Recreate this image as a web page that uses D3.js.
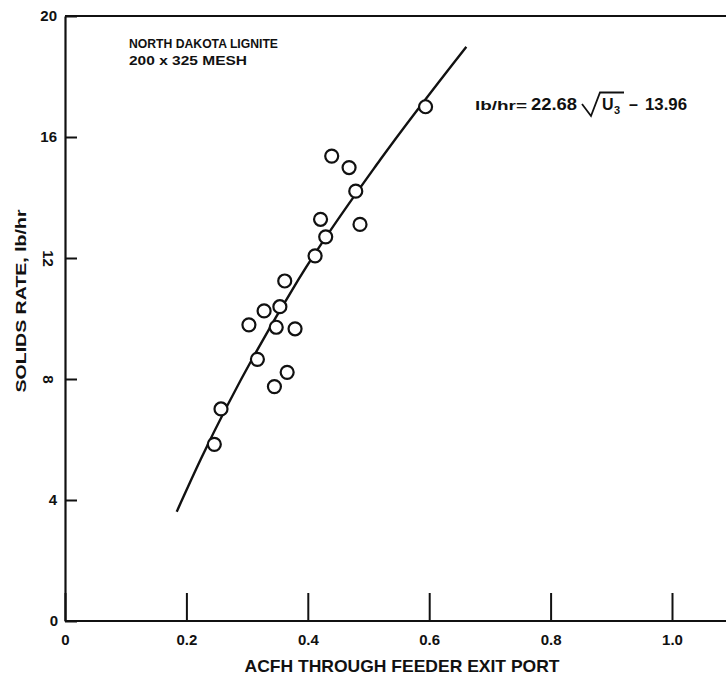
<!DOCTYPE html>
<html>
<head>
<meta charset="utf-8">
<script src="https://cdn.jsdelivr.net/npm/d3@7"></script>
<style>
  body { margin: 0; background: #fff; }
  text { font-family: "Liberation Sans", Arial, sans-serif; font-weight: bold; fill: #111; }
</style>
</head>
<body>
<div id="chart"></div>
<script>
// measured points (ACFH, lb/hr)
var acfh = [0.246, 0.257, 0.303, 0.317, 0.328, 0.345, 0.348, 0.354, 0.362, 0.366,
            0.379, 0.412, 0.421, 0.4295, 0.4394, 0.468, 0.479, 0.486, 0.594];
var solids = [5.84, 7.01, 9.79, 8.65, 10.25, 7.75, 9.71, 10.39, 11.24, 8.22,
              9.66, 12.07, 13.28, 12.70, 15.37, 14.99, 14.21, 13.11, 17.0];

// fitted curve
var fitX = [0.184, 0.224, 0.384, 0.519, 0.661];
var fitY = [3.61, 5.36, 11.27, 15.24, 18.98];

var xTicks = [0, 0.2, 0.4, 0.6, 0.8, 1.0];
var yTicks = [0, 4, 8, 12, 16, 20];

var W = 726, H = 677;
var margin = {left: 65, top: 16, bottom: 56};

var svg = d3.select("#chart").append("svg")
    .attr("width", W)
    .attr("height", H);

var x = d3.scaleLinear().domain([0, 1]).range([margin.left, 672]);
var y = d3.scaleLinear().domain([0, 20]).range([H - margin.bottom, margin.top]);

// frame: top line runs out to the page edge
svg.append("line")
    .attr("x1", x(0)).attr("x2", W)
    .attr("y1", y(20)).attr("y2", y(20))
    .attr("stroke", "#111").attr("stroke-width", 2.2);

var xAxis = svg.append("g")
    .attr("transform", "translate(0," + y(0) + ")")
    .call(d3.axisBottom(x).tickValues(xTicks)
        .tickSizeInner(-28).tickSizeOuter(0).tickPadding(13)
        .tickFormat(d => d === 0 ? "0" : d.toFixed(1)));
xAxis.select(".domain").remove();
xAxis.selectAll(".tick line").attr("stroke", "#111").attr("stroke-width", 2);
xAxis.selectAll(".tick text").style("font-size", "15px").attr("fill", "#111");
xAxis.append("line")
    .attr("x1", x(0)).attr("x2", W)
    .attr("stroke", "#111").attr("stroke-width", 2.2);

var yAxis = svg.append("g")
    .attr("transform", "translate(" + x(0) + ",0)")
    .call(d3.axisLeft(y).tickValues(yTicks)
        .tickSizeInner(-12).tickSizeOuter(0).tickPadding(8));
yAxis.select(".domain").attr("stroke", "#111").attr("stroke-width", 2.2);
yAxis.selectAll(".tick line").attr("stroke", "#111").attr("stroke-width", 2);
yAxis.selectAll(".tick text").style("font-size", "15px").attr("fill", "#111");
// the 12 and 8 labels are lettered sideways in the original
yAxis.selectAll(".tick text")
    .filter(d => d === 12 || d === 8)
    .attr("text-anchor", "middle").attr("x", -17).attr("dy", "0.35em")
    .attr("transform", "rotate(90,-17,0)");
yAxis.selectAll(".tick").filter(d => d === 0).select("text").attr("x", -7);

// fit line
var line = d3.line()
    .x((d, i) => x(fitX[i]))
    .y(d => y(d))
    .curve(d3.curveMonotoneX);
svg.append("path")
    .datum(fitY)
    .attr("d", line)
    .attr("fill", "none")
    .attr("stroke", "#111")
    .attr("stroke-width", 2.4);

svg.selectAll("circle.pt")
    .data(acfh)
    .enter().append("circle")
    .attr("class", "pt")
    .attr("cx", d => x(d))
    .attr("cy", (d, i) => y(solids[i]))
    .attr("r", 6.5)
    .attr("fill", "#fff")
    .attr("stroke", "#111")
    .attr("stroke-width", 2.2);

// axis titles
svg.append("text")
    .attr("x", 402).attr("y", 672)
    .attr("text-anchor", "middle")
    .attr("textLength", 315).attr("lengthAdjust", "spacingAndGlyphs")
    .style("font-size", "17px")
    .text("ACFH THROUGH FEEDER EXIT PORT");

svg.append("text")
    .attr("transform", "translate(26,301) rotate(-90)")
    .attr("text-anchor", "middle")
    .attr("textLength", 183).attr("lengthAdjust", "spacingAndGlyphs")
    .style("font-size", "15px")
    .text("SOLIDS RATE, lb/hr");

// note
svg.append("text")
    .attr("x", 129).attr("y", 48)
    .attr("textLength", 149).attr("lengthAdjust", "spacingAndGlyphs")
    .style("font-size", "13px")
    .text("NORTH DAKOTA LIGNITE");
svg.append("text")
    .attr("x", 129).attr("y", 65)
    .attr("textLength", 118).attr("lengthAdjust", "spacingAndGlyphs")
    .style("font-size", "13px")
    .text("200 x 325 MESH");

// equation
var eq = svg.append("g").style("font-size", "16px");
eq.append("text").attr("x", 475).attr("y", 110)
    .attr("textLength", 52).attr("lengthAdjust", "spacingAndGlyphs")
    .style("font-size", "13px").text("lb/hr=");
eq.append("text").attr("x", 531).attr("y", 110)
    .attr("textLength", 46).attr("lengthAdjust", "spacingAndGlyphs").text("22.68");
eq.append("path")
    .attr("d", "M582,104 L591,116 L600,92.5 L624,92.5")
    .attr("fill", "none").attr("stroke", "#111").attr("stroke-width", 1.8);
eq.append("text").attr("x", 602).attr("y", 110).text("U");
eq.append("text").attr("x", 614).attr("y", 114).style("font-size", "11px").text("3");
eq.append("text").attr("x", 629).attr("y", 110).text("\u2013");
eq.append("text").attr("x", 645).attr("y", 110)
    .attr("textLength", 42).attr("lengthAdjust", "spacingAndGlyphs").text("13.96");
</script>
</body>
</html>
